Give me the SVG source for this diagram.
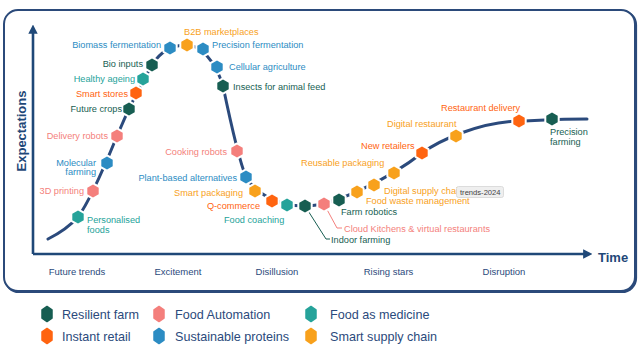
<svg xmlns="http://www.w3.org/2000/svg" xmlns:xlink="http://www.w3.org/1999/xlink" width="640" height="360" viewBox="0 0 640 360">
<style>
text{font-family:"Liberation Sans",Arial,sans-serif}
.lb{font-size:9.2px}
.e{text-anchor:end}
.hx{stroke:#fff;stroke-width:4;paint-order:stroke;stroke-linejoin:round}
.rf{fill:#175e52}.fa{fill:#f47f7c}.fm{fill:#26a39a}.ir{fill:#ff6410}.sp{fill:#2c8cc3}.sc{fill:#f8a11c}
.ax{stroke:#1f4878;stroke-width:2.6;fill:none}
.cat{font-size:9.5px;fill:#2b4a7c;text-anchor:middle}
.lg{font-size:12.6px;fill:#2b4a7c}
</style>
<defs>
<path id="hex" d="M0,-6.6 L5.7,-3.3 L5.7,3.3 L0,6.6 L-5.7,3.3 L-5.7,-3.3 Z"/>
<path id="lhex" d="M0,-7.5 L5,-4.2 L5,4.2 L0,7.5 L-5,4.2 L-5,-4.2 Z" stroke-linejoin="round" stroke-width="1.5"/>
<marker id="arr" viewBox="0 0 10 10" refX="2" refY="5" markerWidth="3.6" markerHeight="3.6" orient="auto" markerUnits="strokeWidth">
<path d="M0,0 L10,5 L0,10 Z" fill="#1f4878"/>
</marker>
</defs>
<rect x="0" y="0" width="640" height="360" fill="#fff"/>
<g id="frame">
<rect x="5" y="11" width="631" height="281" rx="14" fill="none" stroke="#2b4a7a" stroke-width="2.2"/>
<rect x="4" y="10" width="631" height="281" rx="14" fill="#fff" stroke="#2b4a7a" stroke-width="2"/>
</g>
<g id="axes">
<path class="ax" d="M33,254 L33,32" marker-end="url(#arr)"/>
<path class="ax" d="M33,254 L585,254" marker-end="url(#arr)"/>
<text x="26" y="131" transform="rotate(-90 26 131)" text-anchor="middle" font-size="13" font-weight="bold" fill="#1f4878">Expectations</text>
<text x="598" y="262" font-size="13" font-weight="bold" fill="#1f4878">Time</text>
<text class="cat" x="77" y="275">Future trends</text>
<text class="cat" x="178" y="275">Excitement</text>
<text class="cat" x="277" y="275">Disillusion</text>
<text class="cat" x="388.5" y="275">Rising stars</text>
<text class="cat" x="504" y="275">Disruption</text>
</g>
<g id="connectors">
<path d="M48,239 C60,233 70,226 78,217 C90,201 108,158 117,136 C127,112 140,86 152,65 C160,52 172,45 187,45 C200,45 215,60 223,86 C228,110 238,158 246,177 C255,192 275,206 305,206 C335,206 390,178 422,153 C440,140 480,122 519,121 C535,120.5 560,119 587,119" fill="none" stroke="#2b4a7c" stroke-width="3" stroke-linecap="round"/>
<path d="M324,204 L337,228 L342,228" fill="none" stroke="#f47f7c" stroke-width="1"/>
<path d="M305,206 L326,239 L330,239" fill="none" stroke="#175e52" stroke-width="1"/>
</g>
<g id="n-personalised"><use href="#hex" class="hx fm" x="78" y="217"/><text class="lb" x="87" y="222.5" fill="#26a39a">Personalised</text><text class="lb" x="87" y="232.5" fill="#26a39a">foods</text></g>
<g id="n-3d"><use href="#hex" class="hx fa" x="93" y="191"/><text class="lb e" x="84" y="193.5" fill="#f47f7c">3D printing</text></g>
<g id="n-molecular"><use href="#hex" class="hx sp" x="107" y="163"/><text class="lb e" x="96" y="165.5" fill="#2c8cc3">Molecular</text><text class="lb e" x="96" y="175" fill="#2c8cc3">farming</text></g>
<g id="n-delivery"><use href="#hex" class="hx fa" x="117" y="136"/><text class="lb e" x="108" y="138.5" fill="#f47f7c">Delivery robots</text></g>
<g id="n-futurecrops"><use href="#hex" class="hx rf" x="129" y="109"/><text class="lb e" x="122" y="112" fill="#175e52">Future crops</text></g>
<g id="n-smartstores"><use href="#hex" class="hx ir" x="136" y="93"/><text class="lb e" x="128" y="96.5" fill="#ff6410">Smart stores</text></g>
<g id="n-healthy"><use href="#hex" class="hx fm" x="143" y="79"/><text class="lb e" x="135" y="82" fill="#26a39a">Healthy ageing</text></g>
<g id="n-bioinputs"><use href="#hex" class="hx rf" x="152" y="65"/><text class="lb e" x="143" y="67" fill="#175e52">Bio inputs</text></g>
<g id="n-biomass"><use href="#hex" class="hx sp" x="170" y="48"/><text class="lb e" x="161" y="47.5" fill="#2c8cc3">Biomass fermentation</text></g>
<g id="n-b2b"><use href="#hex" class="hx sc" x="187" y="45"/><text class="lb" x="184" y="35" fill="#f8a11c">B2B marketplaces</text></g>
<g id="n-precferm"><use href="#hex" class="hx sp" x="203" y="49"/><text class="lb" x="212" y="47.5" fill="#2c8cc3">Precision fermentation</text></g>
<g id="n-cellular"><use href="#hex" class="hx sp" x="217" y="67"/><text class="lb" x="229" y="69.5" fill="#2c8cc3">Cellular agriculture</text></g>
<g id="n-insects"><use href="#hex" class="hx rf" x="223" y="86"/><text class="lb" x="233" y="89.5" fill="#175e52">Insects for animal feed</text></g>
<g id="n-cooking"><use href="#hex" class="hx fa" x="237" y="151"/><text class="lb e" x="227" y="154.5" fill="#f47f7c">Cooking robots</text></g>
<g id="n-plantbased"><use href="#hex" class="hx sp" x="246" y="177"/><text class="lb e" x="237" y="180.5" fill="#2c8cc3">Plant-based alternatives</text></g>
<g id="n-smartpack"><use href="#hex" class="hx sc" x="255" y="191"/><text class="lb e" x="243" y="195.5" fill="#f8a11c">Smart packaging</text></g>
<g id="n-qcommerce"><use href="#hex" class="hx ir" x="272" y="201"/><text class="lb e" x="260" y="209" fill="#ff6410">Q-commerce</text></g>
<g id="n-foodcoaching"><use href="#hex" class="hx fm" x="287" y="205"/><text class="lb" x="224" y="222.5" fill="#26a39a">Food coaching</text></g>
<g id="n-indoor"><use href="#hex" class="hx rf" x="305" y="206"/><text class="lb" x="331" y="242.5" fill="#175e52">Indoor farming</text></g>
<g id="n-cloud"><use href="#hex" class="hx fa" x="324" y="204"/><text class="lb" x="344" y="231.5" fill="#f47f7c">Cloud Kitchens &amp; virtual restaurants</text></g>
<g id="n-farmrobotics"><use href="#hex" class="hx rf" x="339" y="200"/><text class="lb" x="341" y="215" fill="#175e52">Farm robotics</text></g>
<g id="n-foodwaste"><use href="#hex" class="hx sc" x="357" y="192"/><text class="lb" x="366" y="204" fill="#f8a11c">Food waste management</text></g>
<g id="n-digsupply"><use href="#hex" class="hx sc" x="374" y="185"/><text class="lb" x="384" y="193.5" fill="#f8a11c">Digital supply chain</text></g>
<g id="n-reusable"><use href="#hex" class="hx sc" x="394" y="173"/><text class="lb" x="301" y="166" fill="#f8a11c">Reusable packaging</text></g>
<g id="n-newretailers"><use href="#hex" class="hx ir" x="422" y="153"/><text class="lb" x="361" y="148.5" fill="#ff6410">New retailers</text></g>
<g id="n-digrest"><use href="#hex" class="hx sc" x="456" y="136"/><text class="lb" x="387" y="126.5" fill="#f8a11c">Digital restaurant</text></g>
<g id="n-restdelivery"><use href="#hex" class="hx ir" x="519" y="121"/><text class="lb" x="441" y="111" fill="#ff6410">Restaurant delivery</text></g>
<g id="n-precfarming"><use href="#hex" class="hx rf" x="552" y="119"/><text class="lb" x="550" y="134.5" fill="#175e52">Precision</text><text class="lb" x="550" y="145" fill="#175e52">farming</text></g>
<g id="tooltip"><rect x="456.5" y="186.5" width="47" height="11" rx="2" fill="#efefef" stroke="#d4d4d4" stroke-width="0.8"/><text x="460" y="195" font-size="7.6" fill="#444">trends-2024</text></g>
<g id="legend">
<use href="#lhex" class="rf" stroke="#175e52" x="47" y="314"/><text class="lg" x="62" y="318.5">Resilient farm</text>
<use href="#lhex" class="fa" stroke="#f47f7c" x="159" y="314"/><text class="lg" x="175" y="318.5">Food Automation</text>
<use href="#lhex" class="fm" stroke="#26a39a" x="311" y="314"/><text class="lg" x="330" y="318.5">Food as medicine</text>
<use href="#lhex" class="ir" stroke="#ff6410" x="47" y="336"/><text class="lg" x="62" y="340.5">Instant retail</text>
<use href="#lhex" class="sp" stroke="#2c8cc3" x="159" y="336"/><text class="lg" x="175" y="340.5">Sustainable proteins</text>
<use href="#lhex" class="sc" stroke="#f8a11c" x="311" y="336"/><text class="lg" x="330" y="340.5">Smart supply chain</text>
</g>
</svg>
